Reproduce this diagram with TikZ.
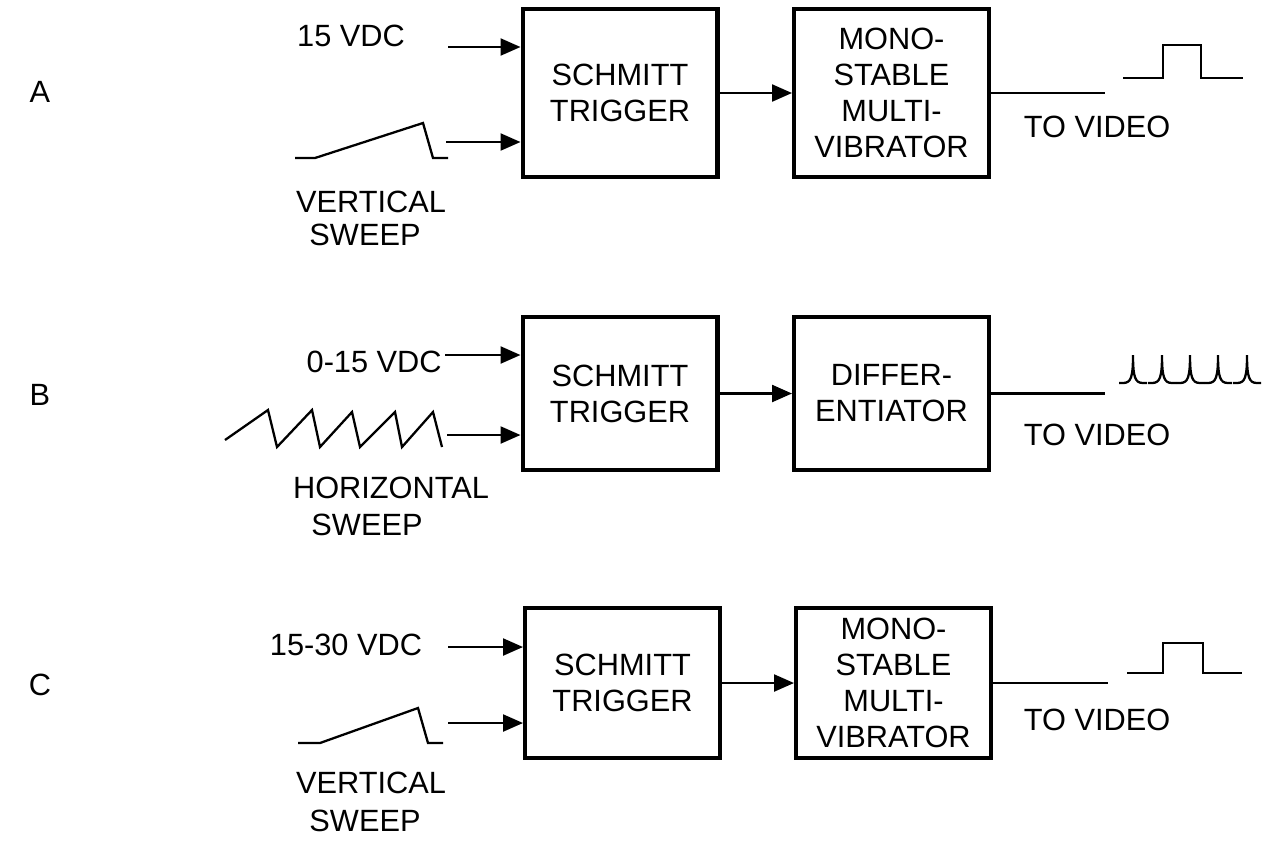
\documentclass[tikz,border=0pt]{standalone}
\usepackage{fontspec}
\setmainfont{Liberation Sans}
\usetikzlibrary{arrows.meta}

\tikzset{
  blk/.style={draw, line width=2.3pt, minimum width=3.9cm, align=center, inner sep=0pt},
  lbl/.style={inner sep=0pt},
  wire/.style={line width=1.3pt},
  sig/.style={wire, -{Triangle[length=0.4cm,width=0.34cm]}},
}

\begin{document}
\begin{tikzpicture}[x=0.02cm, y=-0.02cm, font=\fontsize{17.5}{20.5}\selectfont]
  \useasboundingbox (0,0) rectangle (1263,840);

  % row A
  \node[lbl] (rowA) at (40,92) {A};
  \node[blk, minimum height=3.36cm] (schA) at (620,93) {SCHMITT\\TRIGGER};
  \node[blk, minimum height=3.36cm] (monoA) at (891.5,93) {MONO-\\STABLE\\MULTI-\\VIBRATOR};
  \draw[sig] (schA.east) -- (monoA.west);
  \node[lbl] (vdcA) at (351,36) {15 VDC};
  \coordinate (inA1) at (448,47);
  \coordinate (inA2) at (446,142);
  \draw[sig] (inA1) -- (inA1 -| schA.west);
  \draw[sig] (inA2) -- (inA2 -| schA.west);
  \draw[wire] (295,158) -- (315,158) -- (423,123) -- (433,158) -- (448,158);
  \node[lbl] (vsA1) at (371,202) {VERTICAL};
  \node[lbl] (vsA2) at (365,235) {SWEEP};
  \coordinate (outA) at (1105,93);
  \draw[wire] (monoA.east) -- (monoA.east -| outA);
  \draw[wire] (1123,78) -- (1163,78) -- (1163,45) -- (1201,45) -- (1201,78) -- (1243,78);
  \node[lbl] (tvA) at (1097,127) {TO VIDEO};

  % row B
  \node[lbl] (rowB) at (40,395) {B};
  \node[blk, minimum height=3.06cm] (schB) at (620,393.5) {SCHMITT\\TRIGGER};
  \node[blk, minimum height=3.06cm] (diffB) at (891.5,393.5) {DIFFER-\\ENTIATOR};
  \draw[sig] (schB.east) -- (diffB.west);
  \node[lbl, anchor=east] (vdcB) at (442,362) {0-15 VDC};
  \coordinate (inB1) at (445,355);
  \coordinate (inB2) at (447,435);
  \draw[sig] (inB1) -- (inB1 -| schB.west);
  \draw[sig] (inB2) -- (inB2 -| schB.west);
  \draw[wire] (225,440) -- (268,410) -- (277,447) -- (312,410) -- (320,447) -- (352,412)
    -- (360,447) -- (395,412) -- (402,447) -- (433,412) -- (442,447);
  \node[lbl] (hsB1) at (391,488) {HORIZONTAL};
  \node[lbl] (hsB2) at (367,525) {SWEEP};
  \coordinate (outB) at (1105,395);
  \draw[wire] (diffB.east) -- (diffB.east -| outB);
  \foreach \s in {1133,1162,1190,1218,1247}
    \draw[wire] (\s-14,383) -- (\s-10,383) .. controls (\s-2,383) and (\s,377) .. (\s,355)
      .. controls (\s,377) and (\s+2,383) .. (\s+10,383) -- (\s+14,383);
  \node[lbl] (tvB) at (1097,435) {TO VIDEO};

  % row C
  \node[lbl] (rowC) at (40,685) {C};
  \node[blk, minimum height=3.0cm] (schC) at (622.5,683) {SCHMITT\\TRIGGER};
  \node[blk, minimum height=3.0cm] (monoC) at (893.5,683) {MONO-\\STABLE\\MULTI-\\VIBRATOR};
  \draw[sig] (schC.east) -- (monoC.west);
  \node[lbl] (vdcC) at (346,645) {15-30 VDC};
  \coordinate (inC1) at (448,647);
  \coordinate (inC2) at (448,723);
  \draw[sig] (inC1) -- (inC1 -| schC.west);
  \draw[sig] (inC2) -- (inC2 -| schC.west);
  \draw[wire] (298,743) -- (320,743) -- (418,708) -- (428,743) -- (443,743);
  \node[lbl] (vsC1) at (371,783) {VERTICAL};
  \node[lbl] (vsC2) at (365,821) {SWEEP};
  \coordinate (outC) at (1108,683);
  \draw[wire] (monoC.east) -- (monoC.east -| outC);
  \draw[wire] (1127,673) -- (1163,673) -- (1163,643) -- (1203,643) -- (1203,673) -- (1242,673);
  \node[lbl] (tvC) at (1097,720) {TO VIDEO};
\end{tikzpicture}
\end{document}
